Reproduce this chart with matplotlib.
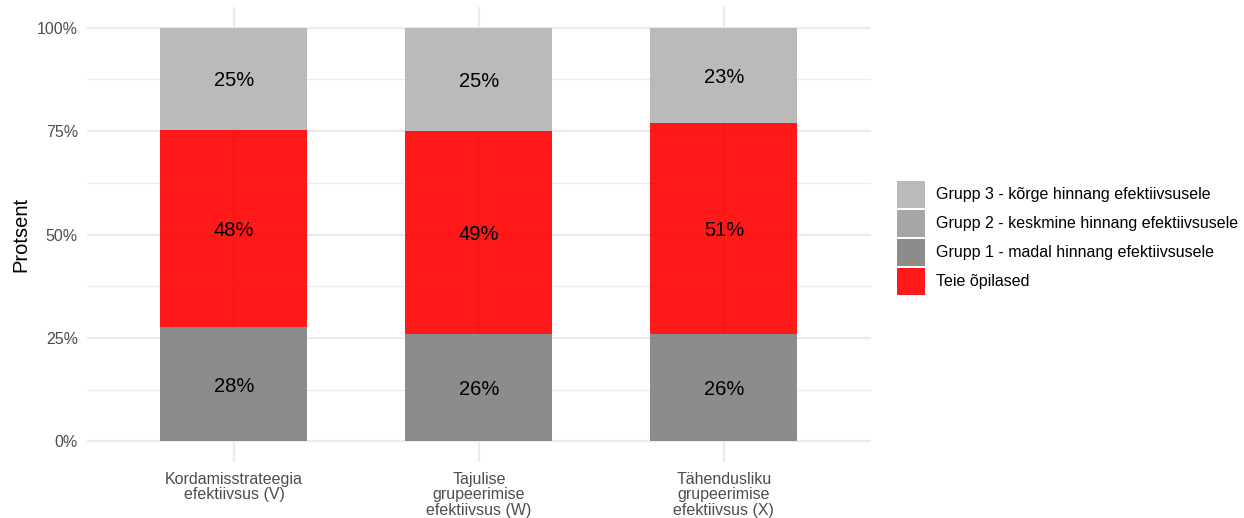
import matplotlib
matplotlib.use("Agg")
import matplotlib.pyplot as plt
from matplotlib.patches import Patch
from matplotlib.ticker import FixedLocator, FuncFormatter

plt.rcParams["font.family"] = ["Liberation Sans", "DejaVu Sans"]

categories = [
    "Kordamisstrateegia\nefektiivsus (V)",
    "Tajulise\ngrupeerimise\nefektiivsus (W)",
    "Tähendusliku\ngrupeerimise\nefektiivsus (X)",
]
# shares in percent, stacked bottom to top
grupp1 = [27.6, 26.0, 26.0]
teie = [47.6, 49.1, 50.9]
grupp3 = [24.8, 24.9, 23.1]

legend_labels = [
    "Grupp 3 - kõrge hinnang efektiivsusele",
    "Grupp 2 - keskmine hinnang efektiivsusele",
    "Grupp 1 - madal hinnang efektiivsusele",
    "Teie õpilased",
]

col_g3 = "#b3b3b3"
col_g2 = "#9c9c9c"
col_g1 = "#808080"
col_teie = "#ff0000"
alpha = 0.9

fig = plt.figure(figsize=(12.44, 5.18), dpi=100)
ax = fig.add_axes([0.0699, 0.108, 0.6302, 0.8785])

x = [1, 2, 3]
width = 0.6
ax.set_axisbelow(True)

stacks = [(grupp1, col_g1), (teie, col_teie), (grupp3, col_g3)]
bottoms = [0.0, 0.0, 0.0]
for vals, col in stacks:
    ax.bar(x, vals, width=width, bottom=bottoms, color=col, alpha=alpha,
           linewidth=0, zorder=2)
    for xi, v, b in zip(x, vals, bottoms):
        ax.text(xi, b + v / 2, f"{round(v):d}%", ha="center",
                va="center_baseline", fontsize=14.5, color="black", zorder=3)
    bottoms = [b + v for b, v in zip(bottoms, vals)]

ax.set_xlim(0.4, 3.6)
ax.set_ylim(-5, 105)
ax.set_xticks(x)
ax.set_xticklabels(categories, linespacing=1.05)
ax.yaxis.set_major_locator(FixedLocator([0, 25, 50, 75, 100]))
ax.yaxis.set_minor_locator(FixedLocator([12.5, 37.5, 62.5, 87.5]))
ax.yaxis.set_major_formatter(FuncFormatter(lambda v, p: f"{v:.0f}%"))

ax.grid(which="major", axis="both", color="#ebebeb", linewidth=1.6, zorder=0)
ax.grid(which="minor", axis="y", color="#ebebeb", linewidth=0.8, zorder=0)
for s in ax.spines.values():
    s.set_visible(False)
ax.tick_params(axis="both", which="both", length=0, colors="#4d4d4d",
               labelsize=11.5)
ax.tick_params(axis="x", pad=7)
ax.tick_params(axis="y", pad=6.5)
ax.set_ylabel("Protsent", fontsize=14.5, color="black", labelpad=5)

handles = [
    Patch(facecolor=col_g3, alpha=alpha, linewidth=0),
    Patch(facecolor=col_g2, alpha=alpha, linewidth=0),
    Patch(facecolor=col_g1, alpha=alpha, linewidth=0),
    Patch(facecolor=col_teie, alpha=alpha, linewidth=0),
]
fig.legend(handles, legend_labels, loc="center left",
           bbox_to_anchor=(0.721, 0.541), frameon=False, fontsize=11.5,
           handlelength=1.75, handleheight=2.22, labelspacing=0.125,
           handletextpad=0.7, borderaxespad=0, borderpad=0)

fig.savefig("out.png", dpi=100)
